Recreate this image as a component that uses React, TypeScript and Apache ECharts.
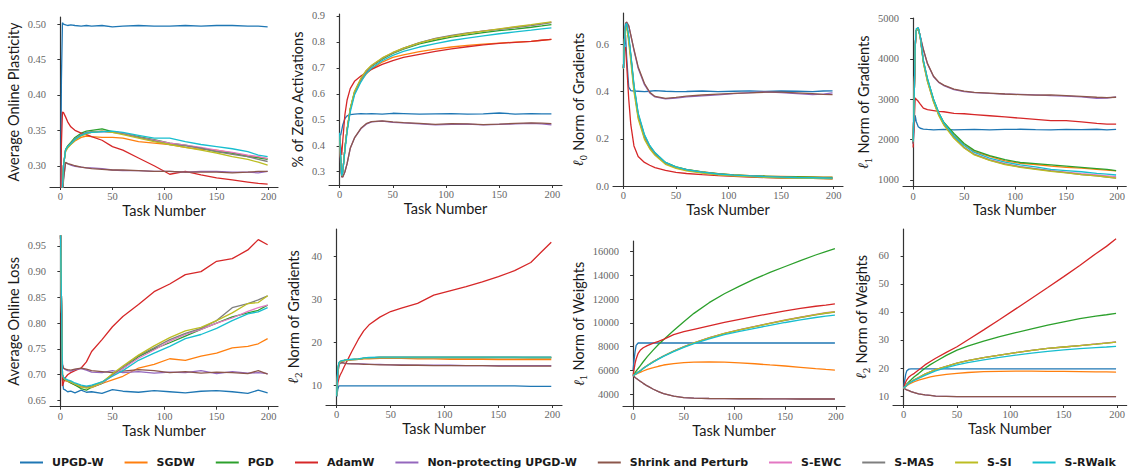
import React, { useEffect, useRef } from "react";
import * as echarts from "echarts";

const NAMES = ["UPGD-W", "SGDW", "PGD", "AdamW", "Non-protecting UPGD-W", "Shrink and Perturb", "S-EWC", "S-MAS", "S-SI", "S-RWalk"];
const COLORS = ["#1f77b4", "#ff7f0e", "#2ca02c", "#d62728", "#9467bd", "#8c564b", "#e377c2", "#7f7f7f", "#bcbd22", "#17becf"];

const X = [0, 1, 2, 3, 5, 7, 10, 14, 20, 25, 30, 40, 50, 60, 75, 90, 105, 120, 135, 150, 165, 180, 190, 199];
const X_TICKS = [0, 50, 100, 150, 200];

const plasticity = [
  [0.20, 0.42, 0.502, 0.500, 0.499, 0.498, 0.499, 0.498, 0.497, 0.498, 0.497, 0.498, 0.496, 0.497, 0.498, 0.497, 0.497, 0.498, 0.497, 0.498, 0.498, 0.497, 0.497, 0.496],
  [0.20, 0.24, 0.27, 0.30, 0.322, 0.326, 0.330, 0.335, 0.340, 0.342, 0.341, 0.340, 0.340, 0.339, 0.334, 0.332, 0.330, 0.326, 0.323, 0.322, 0.318, 0.314, 0.312, 0.310],
  [0.20, 0.24, 0.27, 0.30, 0.323, 0.328, 0.333, 0.340, 0.346, 0.349, 0.350, 0.352, 0.348, 0.346, 0.341, 0.337, 0.332, 0.329, 0.325, 0.320, 0.318, 0.313, 0.311, 0.309],
  [0.20, 0.33, 0.376, 0.375, 0.369, 0.362, 0.355, 0.350, 0.346, 0.344, 0.341, 0.336, 0.327, 0.322, 0.311, 0.300, 0.288, 0.292, 0.287, 0.283, 0.280, 0.277, 0.275, 0.274],
  [0.20, 0.22, 0.25, 0.28, 0.304, 0.303, 0.301, 0.299, 0.298, 0.297, 0.297, 0.296, 0.294, 0.293, 0.293, 0.292, 0.292, 0.291, 0.292, 0.292, 0.291, 0.291, 0.290, 0.292],
  [0.20, 0.22, 0.25, 0.28, 0.305, 0.303, 0.302, 0.300, 0.298, 0.297, 0.296, 0.295, 0.294, 0.294, 0.293, 0.292, 0.292, 0.291, 0.291, 0.291, 0.290, 0.291, 0.292, 0.292],
  [0.20, 0.24, 0.27, 0.30, 0.321, 0.326, 0.331, 0.337, 0.343, 0.346, 0.347, 0.348, 0.348, 0.346, 0.340, 0.336, 0.332, 0.329, 0.326, 0.322, 0.319, 0.315, 0.313, 0.310],
  [0.20, 0.24, 0.27, 0.30, 0.322, 0.327, 0.332, 0.338, 0.344, 0.347, 0.348, 0.349, 0.347, 0.345, 0.340, 0.335, 0.330, 0.328, 0.325, 0.320, 0.316, 0.313, 0.309, 0.306],
  [0.20, 0.24, 0.27, 0.30, 0.320, 0.325, 0.330, 0.336, 0.342, 0.345, 0.347, 0.349, 0.347, 0.344, 0.339, 0.334, 0.330, 0.326, 0.322, 0.318, 0.313, 0.309, 0.305, 0.301],
  [0.20, 0.24, 0.27, 0.30, 0.322, 0.327, 0.331, 0.337, 0.343, 0.346, 0.347, 0.348, 0.349, 0.347, 0.343, 0.339, 0.339, 0.334, 0.330, 0.327, 0.324, 0.320, 0.315, 0.313],
];

const zeroActivations = [
  [0.445, 0.44, 0.46, 0.48, 0.505, 0.515, 0.520, 0.522, 0.524, 0.523, 0.524, 0.522, 0.525, 0.524, 0.522, 0.523, 0.524, 0.522, 0.523, 0.526, 0.522, 0.524, 0.523, 0.523],
  [0.44, 0.35, 0.285, 0.30, 0.39, 0.46, 0.54, 0.60, 0.65, 0.676, 0.695, 0.722, 0.740, 0.750, 0.762, 0.772, 0.780, 0.786, 0.791, 0.795, 0.799, 0.802, 0.806, 0.809],
  [0.44, 0.35, 0.285, 0.30, 0.39, 0.46, 0.54, 0.605, 0.655, 0.685, 0.705, 0.733, 0.755, 0.772, 0.792, 0.806, 0.818, 0.827, 0.835, 0.843, 0.849, 0.856, 0.861, 0.866],
  [0.44, 0.40, 0.365, 0.42, 0.52, 0.575, 0.62, 0.648, 0.668, 0.682, 0.694, 0.713, 0.728, 0.740, 0.752, 0.763, 0.773, 0.781, 0.788, 0.794, 0.798, 0.802, 0.806, 0.809],
  [0.44, 0.33, 0.28, 0.28, 0.30, 0.33, 0.39, 0.43, 0.465, 0.483, 0.492, 0.495, 0.490, 0.488, 0.484, 0.480, 0.482, 0.483, 0.480, 0.482, 0.484, 0.486, 0.484, 0.480],
  [0.44, 0.33, 0.28, 0.28, 0.30, 0.33, 0.39, 0.43, 0.467, 0.485, 0.493, 0.496, 0.492, 0.489, 0.486, 0.482, 0.485, 0.484, 0.481, 0.483, 0.486, 0.488, 0.487, 0.485],
  [0.44, 0.35, 0.285, 0.30, 0.39, 0.46, 0.54, 0.605, 0.657, 0.688, 0.708, 0.737, 0.758, 0.775, 0.796, 0.812, 0.823, 0.832, 0.842, 0.849, 0.857, 0.864, 0.870, 0.876],
  [0.44, 0.35, 0.285, 0.30, 0.39, 0.46, 0.54, 0.605, 0.656, 0.687, 0.707, 0.736, 0.757, 0.776, 0.797, 0.813, 0.825, 0.834, 0.841, 0.848, 0.855, 0.862, 0.868, 0.874],
  [0.44, 0.35, 0.285, 0.30, 0.39, 0.46, 0.545, 0.61, 0.66, 0.69, 0.71, 0.738, 0.759, 0.776, 0.796, 0.811, 0.822, 0.832, 0.841, 0.850, 0.858, 0.866, 0.872, 0.877],
  [0.45, 0.36, 0.285, 0.30, 0.38, 0.45, 0.53, 0.595, 0.645, 0.678, 0.698, 0.727, 0.748, 0.763, 0.780, 0.793, 0.805, 0.814, 0.823, 0.831, 0.838, 0.845, 0.850, 0.854],
];

const l0Grad = [
  [0.50, 0.60, 0.64, 0.55, 0.42, 0.405, 0.403, 0.402, 0.400, 0.402, 0.405, 0.402, 0.400, 0.401, 0.403, 0.400, 0.402, 0.404, 0.401, 0.403, 0.402, 0.400, 0.403, 0.404],
  [0.50, 0.62, 0.68, 0.685, 0.63, 0.55, 0.42, 0.30, 0.21, 0.167, 0.138, 0.098, 0.080, 0.069, 0.060, 0.052, 0.047, 0.044, 0.042, 0.041, 0.040, 0.039, 0.038, 0.038],
  [0.50, 0.62, 0.68, 0.685, 0.63, 0.555, 0.425, 0.305, 0.215, 0.17, 0.14, 0.10, 0.081, 0.070, 0.060, 0.052, 0.047, 0.044, 0.042, 0.040, 0.039, 0.038, 0.037, 0.037],
  [0.50, 0.58, 0.59, 0.52, 0.37, 0.26, 0.17, 0.125, 0.10, 0.088, 0.078, 0.066, 0.058, 0.053, 0.048, 0.044, 0.041, 0.038, 0.036, 0.034, 0.033, 0.032, 0.031, 0.030],
  [0.50, 0.60, 0.69, 0.695, 0.68, 0.64, 0.575, 0.50, 0.43, 0.395, 0.378, 0.370, 0.373, 0.378, 0.382, 0.387, 0.392, 0.396, 0.399, 0.396, 0.392, 0.388, 0.390, 0.395],
  [0.50, 0.60, 0.69, 0.695, 0.68, 0.64, 0.58, 0.505, 0.435, 0.398, 0.38, 0.372, 0.376, 0.381, 0.386, 0.390, 0.393, 0.395, 0.398, 0.398, 0.395, 0.392, 0.389, 0.388],
  [0.50, 0.62, 0.68, 0.685, 0.625, 0.545, 0.415, 0.295, 0.205, 0.163, 0.135, 0.096, 0.079, 0.068, 0.058, 0.050, 0.045, 0.042, 0.039, 0.037, 0.035, 0.034, 0.033, 0.032],
  [0.50, 0.62, 0.68, 0.685, 0.625, 0.545, 0.415, 0.295, 0.205, 0.163, 0.135, 0.096, 0.078, 0.067, 0.057, 0.049, 0.044, 0.041, 0.038, 0.036, 0.034, 0.033, 0.032, 0.031],
  [0.50, 0.62, 0.67, 0.675, 0.61, 0.53, 0.40, 0.285, 0.198, 0.158, 0.13, 0.092, 0.075, 0.064, 0.055, 0.047, 0.043, 0.040, 0.037, 0.035, 0.033, 0.032, 0.031, 0.030],
  [0.50, 0.62, 0.685, 0.69, 0.64, 0.56, 0.43, 0.31, 0.218, 0.172, 0.142, 0.10, 0.081, 0.069, 0.059, 0.051, 0.046, 0.043, 0.040, 0.038, 0.036, 0.035, 0.034, 0.033],
];

const l1Grad = [
  [1900, 2350, 2600, 2450, 2320, 2280, 2260, 2250, 2240, 2245, 2250, 2240, 2245, 2250, 2240, 2250, 2255, 2245, 2240, 2250, 2245, 2255, 2240, 2250],
  [1950, 3000, 4300, 4700, 4770, 4550, 3950, 3500, 2980, 2650, 2410, 2100, 1870, 1700, 1580, 1470, 1410, 1380, 1340, 1310, 1290, 1260, 1240, 1220],
  [1950, 3000, 4300, 4700, 4770, 4550, 3950, 3500, 3000, 2670, 2430, 2150, 1900, 1730, 1600, 1500, 1430, 1400, 1370, 1340, 1310, 1280, 1260, 1230],
  [1800, 2400, 3030, 3000, 2950, 2880, 2780, 2740, 2720, 2700, 2690, 2650, 2640, 2620, 2590, 2560, 2530, 2500, 2470, 2470, 2440, 2400, 2380, 2380],
  [1900, 3000, 4300, 4700, 4760, 4550, 4230, 3880, 3560, 3420, 3340, 3240, 3190, 3165, 3145, 3130, 3120, 3110, 3090, 3080, 3060, 3020, 3030, 3060],
  [1900, 3000, 4300, 4700, 4760, 4560, 4240, 3890, 3570, 3430, 3350, 3250, 3200, 3170, 3150, 3130, 3115, 3100, 3110, 3090, 3070, 3050, 3040, 3050],
  [1950, 3000, 4300, 4700, 4770, 4530, 3920, 3460, 2950, 2620, 2380, 2050, 1810, 1640, 1500, 1400, 1330, 1280, 1230, 1190, 1150, 1120, 1100, 1080],
  [1950, 3000, 4300, 4700, 4770, 4530, 3920, 3460, 2950, 2620, 2380, 2050, 1800, 1630, 1490, 1390, 1320, 1270, 1220, 1180, 1130, 1100, 1070, 1040],
  [1950, 3000, 4300, 4700, 4760, 4520, 3900, 3440, 2930, 2600, 2360, 2030, 1790, 1620, 1480, 1380, 1310, 1260, 1210, 1170, 1130, 1100, 1070, 1040],
  [1950, 3000, 4350, 4750, 4780, 4560, 3970, 3520, 3000, 2670, 2420, 2090, 1850, 1680, 1540, 1440, 1370, 1320, 1260, 1230, 1200, 1160, 1140, 1120],
];

const onlineLoss = [
  [1.00, 0.85, 0.69, 0.672, 0.670, 0.667, 0.668, 0.665, 0.670, 0.666, 0.667, 0.664, 0.671, 0.668, 0.666, 0.669, 0.667, 0.665, 0.668, 0.669, 0.667, 0.664, 0.670, 0.665],
  [1.00, 0.85, 0.70, 0.690, 0.688, 0.687, 0.684, 0.680, 0.676, 0.677, 0.675, 0.683, 0.690, 0.697, 0.713, 0.720, 0.731, 0.728, 0.736, 0.742, 0.752, 0.755, 0.760, 0.770],
  [1.00, 0.85, 0.70, 0.690, 0.690, 0.688, 0.684, 0.680, 0.673, 0.670, 0.676, 0.683, 0.700, 0.712, 0.735, 0.750, 0.762, 0.775, 0.788, 0.800, 0.812, 0.820, 0.825, 0.835],
  [1.00, 0.80, 0.678, 0.685, 0.695, 0.700, 0.704, 0.708, 0.713, 0.725, 0.745, 0.768, 0.793, 0.813, 0.836, 0.861, 0.876, 0.894, 0.900, 0.920, 0.925, 0.942, 0.962, 0.952],
  [1.00, 0.85, 0.72, 0.712, 0.710, 0.708, 0.707, 0.710, 0.712, 0.709, 0.705, 0.704, 0.708, 0.704, 0.706, 0.703, 0.705, 0.704, 0.708, 0.702, 0.706, 0.703, 0.704, 0.702],
  [1.00, 0.85, 0.72, 0.713, 0.711, 0.710, 0.709, 0.711, 0.713, 0.711, 0.708, 0.706, 0.704, 0.707, 0.710, 0.708, 0.704, 0.706, 0.703, 0.705, 0.704, 0.702, 0.708, 0.701],
  [1.00, 0.85, 0.70, 0.695, 0.690, 0.688, 0.686, 0.682, 0.677, 0.675, 0.676, 0.684, 0.698, 0.712, 0.732, 0.748, 0.765, 0.778, 0.788, 0.800, 0.810, 0.823, 0.830, 0.835],
  [1.00, 0.85, 0.70, 0.695, 0.690, 0.688, 0.686, 0.682, 0.678, 0.676, 0.678, 0.686, 0.700, 0.715, 0.737, 0.752, 0.768, 0.780, 0.790, 0.805, 0.830, 0.838, 0.845, 0.853],
  [1.00, 0.85, 0.70, 0.695, 0.690, 0.688, 0.686, 0.682, 0.677, 0.674, 0.676, 0.685, 0.702, 0.717, 0.738, 0.756, 0.772, 0.785, 0.792, 0.805, 0.820, 0.838, 0.840, 0.853],
  [1.00, 0.85, 0.70, 0.695, 0.692, 0.690, 0.688, 0.684, 0.680, 0.678, 0.680, 0.686, 0.697, 0.708, 0.728, 0.742, 0.755, 0.770, 0.778, 0.790, 0.805, 0.818, 0.822, 0.830],
];

const l2Grad = [
  [7.3, 9.0, 9.8, 9.8, 9.8, 9.8, 9.8, 9.8, 9.8, 9.8, 9.8, 9.8, 9.8, 9.8, 9.8, 9.8, 9.8, 9.8, 9.8, 9.8, 9.8, 9.7, 9.7, 9.7],
  [7.5, 13.5, 15.0, 15.4, 15.6, 15.7, 15.8, 15.9, 16.0, 16.1, 16.1, 16.2, 16.2, 16.2, 16.1, 16.1, 16.0, 16.0, 16.0, 15.9, 15.9, 15.9, 15.9, 15.9],
  [7.5, 13.5, 15.0, 15.4, 15.6, 15.7, 15.8, 15.9, 16.0, 16.2, 16.3, 16.4, 16.4, 16.4, 16.4, 16.4, 16.4, 16.4, 16.4, 16.4, 16.4, 16.3, 16.3, 16.3],
  [7.5, 10.5, 11.5, 12.2, 13.2, 14.3, 15.8, 17.8, 20.6, 22.6, 24.0, 25.8, 27.1, 27.9, 29.0, 30.9, 31.9, 32.9, 34.0, 35.2, 36.6, 38.5, 41.0, 43.2],
  [7.5, 12.5, 14.5, 15.1, 15.2, 15.1, 15.0, 15.0, 14.9, 14.9, 14.8, 14.8, 14.7, 14.7, 14.6, 14.6, 14.6, 14.5, 14.5, 14.5, 14.5, 14.5, 14.5, 14.5],
  [7.5, 12.5, 14.5, 15.1, 15.2, 15.1, 15.0, 14.9, 14.9, 14.8, 14.8, 14.7, 14.7, 14.6, 14.6, 14.5, 14.5, 14.5, 14.5, 14.4, 14.4, 14.4, 14.4, 14.4],
  [7.5, 13.5, 15.0, 15.4, 15.6, 15.7, 15.8, 15.9, 16.0, 16.2, 16.3, 16.4, 16.4, 16.4, 16.4, 16.4, 16.4, 16.4, 16.4, 16.4, 16.4, 16.4, 16.4, 16.4],
  [7.5, 13.5, 15.0, 15.4, 15.6, 15.7, 15.8, 15.9, 16.0, 16.2, 16.3, 16.4, 16.4, 16.4, 16.4, 16.4, 16.4, 16.4, 16.4, 16.4, 16.4, 16.4, 16.4, 16.4],
  [7.5, 13.5, 15.0, 15.4, 15.6, 15.7, 15.8, 15.9, 16.0, 16.2, 16.3, 16.4, 16.4, 16.4, 16.4, 16.4, 16.4, 16.4, 16.4, 16.4, 16.4, 16.4, 16.4, 16.4],
  [7.5, 13.8, 15.2, 15.5, 15.7, 15.8, 15.9, 16.0, 16.1, 16.3, 16.4, 16.5, 16.5, 16.5, 16.5, 16.5, 16.5, 16.5, 16.5, 16.5, 16.5, 16.5, 16.5, 16.5],
];

const l1Weights = [
  [6000, 6900, 7600, 8100, 8300, 8300, 8300, 8300, 8300, 8300, 8300, 8300, 8300, 8300, 8300, 8300, 8300, 8300, 8300, 8300, 8300, 8300, 8300, 8300],
  [5550, 5600, 5640, 5680, 5750, 5820, 5940, 6080, 6220, 6340, 6445, 6570, 6643, 6680, 6700, 6690, 6630, 6550, 6450, 6360, 6250, 6140, 6070, 6020],
  [5550, 5680, 5800, 5920, 6150, 6380, 6720, 7150, 7720, 8170, 8580, 9350, 10100, 10800, 11700, 12450, 13100, 13700, 14250, 14750, 15250, 15720, 16000, 16250],
  [5550, 6100, 6600, 6950, 7430, 7680, 7900, 8080, 8290, 8430, 8600, 9000, 9250, 9450, 9750, 10030, 10290, 10540, 10780, 11000, 11220, 11400, 11500, 11600],
  [5550, 5480, 5400, 5330, 5200, 5080, 4900, 4680, 4400, 4200, 4030, 3820, 3700, 3650, 3620, 3610, 3600, 3600, 3590, 3590, 3580, 3580, 3580, 3580],
  [5550, 5480, 5400, 5330, 5200, 5080, 4900, 4680, 4400, 4200, 4030, 3820, 3700, 3650, 3620, 3610, 3600, 3600, 3590, 3590, 3580, 3580, 3580, 3580],
  [5550, 5600, 5660, 5720, 5850, 5950, 6165, 6400, 6727, 6970, 7205, 7620, 7991, 8320, 8750, 9120, 9420, 9700, 9970, 10240, 10480, 10720, 10860, 10950],
  [5550, 5600, 5660, 5720, 5850, 5950, 6165, 6400, 6727, 6970, 7205, 7610, 7980, 8300, 8730, 9100, 9400, 9680, 9950, 10210, 10450, 10680, 10810, 10900],
  [5550, 5600, 5660, 5720, 5850, 5950, 6165, 6400, 6727, 6970, 7205, 7615, 7985, 8310, 8740, 9110, 9410, 9690, 9960, 10220, 10460, 10690, 10830, 10920],
  [5550, 5600, 5660, 5720, 5840, 5940, 6150, 6380, 6700, 6940, 7170, 7570, 7930, 8240, 8650, 9000, 9280, 9540, 9790, 10030, 10250, 10450, 10570, 10650],
];

const l2Weights = [
  [12.8, 15.5, 17.8, 19.0, 19.6, 19.7, 19.7, 19.7, 19.7, 19.7, 19.7, 19.7, 19.7, 19.7, 19.7, 19.7, 19.7, 19.7, 19.7, 19.7, 19.7, 19.7, 19.7, 19.7],
  [12.8, 13.1, 13.4, 13.7, 14.2, 14.6, 15.1, 15.7, 16.3, 16.8, 17.2, 17.7, 18.1, 18.4, 18.7, 18.8, 18.9, 18.9, 18.8, 18.8, 18.7, 18.6, 18.6, 18.5],
  [12.8, 13.3, 13.8, 14.3, 15.1, 15.8, 16.9, 18.0, 19.9, 21.2, 22.3, 24.5, 26.4, 27.8, 29.6, 31.2, 32.6, 34.0, 35.3, 36.5, 37.6, 38.5, 39.0, 39.5],
  [12.8, 14.0, 15.0, 15.8, 16.8, 17.4, 18.1, 19.3, 21.1, 22.3, 23.5, 25.6, 27.6, 30.0, 33.6, 37.3, 41.1, 44.9, 48.7, 52.6, 56.6, 60.8, 63.4, 66.1],
  [12.8, 12.6, 12.4, 12.2, 11.9, 11.6, 11.2, 10.8, 10.4, 10.2, 10.0, 9.9, 9.8, 9.8, 9.8, 9.8, 9.8, 9.8, 9.8, 9.8, 9.8, 9.8, 9.8, 9.8],
  [12.8, 12.6, 12.4, 12.2, 11.9, 11.6, 11.2, 10.8, 10.4, 10.2, 10.0, 9.9, 9.8, 9.8, 9.8, 9.8, 9.8, 9.8, 9.8, 9.8, 9.8, 9.8, 9.8, 9.8],
  [12.8, 13.2, 13.6, 14.0, 14.6, 15.1, 15.8, 16.6, 17.8, 18.6, 19.4, 20.6, 21.7, 22.6, 23.7, 24.6, 25.5, 26.3, 27.0, 27.5, 28.0, 28.6, 29.0, 29.3],
  [12.8, 13.2, 13.6, 14.0, 14.6, 15.1, 15.8, 16.6, 17.8, 18.6, 19.4, 20.6, 21.7, 22.6, 23.7, 24.6, 25.5, 26.3, 27.0, 27.5, 28.0, 28.5, 28.9, 29.2],
  [12.8, 13.2, 13.6, 14.0, 14.6, 15.1, 15.8, 16.6, 17.8, 18.6, 19.4, 20.6, 21.7, 22.6, 23.7, 24.6, 25.5, 26.3, 27.0, 27.5, 28.0, 28.5, 28.9, 29.2],
  [12.8, 13.2, 13.5, 13.9, 14.5, 15.0, 15.6, 16.3, 17.4, 18.2, 19.0, 20.1, 21.1, 21.9, 22.9, 23.8, 24.6, 25.3, 25.9, 26.5, 26.9, 27.3, 27.5, 27.7],
];

const Y_TICKS = [
  [0.30, 0.35, 0.40, 0.45, 0.50],
  [0.3, 0.4, 0.5, 0.6, 0.7, 0.8, 0.9],
  [0.0, 0.2, 0.4, 0.6],
  [1000, 2000, 3000, 4000, 5000],
  [0.65, 0.70, 0.75, 0.80, 0.85, 0.90, 0.95],
  [10, 20, 30, 40],
  [4000, 6000, 8000, 10000, 12000, 14000, 16000],
  [10, 20, 30, 40, 50, 60],
];

const PANELS = [
  { data: plasticity, title: "{t|Average Online Plasticity}", grid: [50, 17, 228, 170], y: [0.27, 0.51], dec: 2, gap: 27 },
  { data: zeroActivations, title: "{t|% of Zero Activations}", grid: [329, 14, 233, 171], y: [0.249, 0.907], dec: 1, gap: 22 },
  { data: l0Grad, title: "{l|ℓ}{s|0}{t| Norm of Gradients}", grid: [613, 13, 230, 173], y: [0, 0.734], dec: 1, gap: 25 },
  { data: l1Grad, title: "{l|ℓ}{s|1}{t| Norm of Gradients}", grid: [903, 18, 228, 168.5], y: [834, 5017], dec: 0, gap: 30 },
  { data: onlineLoss, title: "{t|Average Online Loss}", grid: [50, 236, 228, 170.7], y: [0.638, 0.969], dec: 2, gap: 27 },
  { data: l2Grad, title: "{l|ℓ}{s|2}{t| Norm of Gradients}", grid: [326, 229, 236, 176], y: [5.35, 46.3], dec: 0, gap: 23 },
  { data: l1Weights, title: "{l|ℓ}{s|1}{t| Norm of Weights}", grid: [623, 241, 222, 165.7], y: [2930, 16900], dec: 0, gap: 33 },
  { data: l2Weights, title: "{l|ℓ}{s|2}{t| Norm of Weights}", grid: [893, 229, 237, 176], y: [6.8, 69.6], dec: 0, gap: 22 },
];

const TICK_FONT = "'Liberation Serif', 'DejaVu Serif', serif";
const NAME_FONT = "Lato, 'Open Sans', sans-serif";

export default function App() {
  const ref = useRef<HTMLDivElement>(null);
  useEffect(() => {
    document.body.style.margin = "0";
    const chart = echarts.init(ref.current!, null, { renderer: "svg" });
    const grids: any[] = [];
    const xAxes: any[] = [];
    const yAxes: any[] = [];
    const series: any[] = [];
    const axisLine = { show: true, lineStyle: { color: "#333", width: 1.2 } };
    PANELS.forEach((p, k) => {
      const [left, top, width, height] = p.grid;
      grids.push({ left, top, width, height, containLabel: false });
      xAxes.push({
        type: "value", gridIndex: k, min: -9.95, max: 208.95,
        name: "Task Number", nameLocation: "middle", nameGap: 15,
        nameTextStyle: { fontFamily: NAME_FONT, fontSize: 14.5, color: "#1a1a1a" },
        axisLine, splitLine: { show: false },
        axisTick: { show: true, length: 3, customValues: X_TICKS, lineStyle: { color: "#333" } },
        axisLabel: { customValues: X_TICKS, fontFamily: TICK_FONT, fontSize: 10.5, color: "#666", margin: 4 },
      });
      const yt = Y_TICKS[k];
      yAxes.push({
        type: "value", gridIndex: k, min: p.y[0], max: p.y[1],
        name: p.title, nameLocation: "middle", nameGap: p.gap,
        nameTextStyle: {
          fontFamily: NAME_FONT, fontSize: 14.5, color: "#1a1a1a",
          rich: {
            t: { fontFamily: NAME_FONT, fontSize: 14.5, color: "#1a1a1a", lineHeight: 20 },
            l: { fontFamily: "'DejaVu Serif', serif", fontStyle: "italic", fontSize: 14.5, color: "#1a1a1a", lineHeight: 20 },
            s: { fontFamily: "'DejaVu Serif', serif", fontSize: 9, color: "#1a1a1a", verticalAlign: "bottom", lineHeight: 20 },
          },
        },
        axisLine, splitLine: { show: false },
        axisTick: { show: true, length: 3, customValues: yt, lineStyle: { color: "#333" } },
        axisLabel: {
          customValues: yt, fontFamily: TICK_FONT, fontSize: 10.5, color: "#666", margin: 4,
          formatter: (v: number) => v.toFixed(p.dec),
        },
      });
      p.data.forEach((row, i) => {
        series.push({
          type: "line", name: NAMES[i], xAxisIndex: k, yAxisIndex: k,
          data: X.map((x, j) => [x, row[j]]),
          showSymbol: false, symbol: "none", clip: true,
          lineStyle: { width: 1.3, color: COLORS[i] },
          itemStyle: { color: COLORS[i] },
        });
      });
    });
    chart.setOption({
      animation: false,
      backgroundColor: "#fff",
      grid: grids,
      xAxis: xAxes,
      yAxis: yAxes,
      series,
      legend: {
        data: NAMES, left: 20, top: 457, padding: 0, icon: "rect", itemWidth: 23, itemHeight: 2, itemGap: 21,
        textStyle: { fontFamily: "'DejaVu Sans', sans-serif", fontWeight: "bold", fontSize: 11, color: "#1a1a1a", padding: [0, 0, 0, 4] },
      },
    });
    return () => chart.dispose();
  }, []);
  return <div ref={ref} style={{ width: 1128, height: 471 }} />;
}
